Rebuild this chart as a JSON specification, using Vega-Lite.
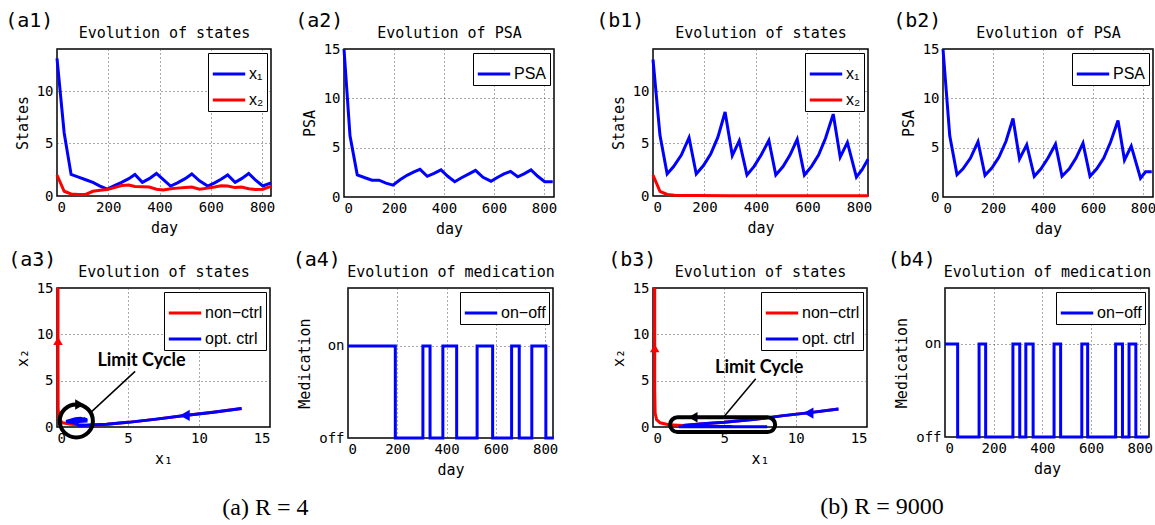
{
"$schema": "https://vega.github.io/schema/vega-lite/v6.json",
"padding": {"left": 4, "top": 10, "right": 0, "bottom": 0},
"background": "white",
"config": {
  "view": {"stroke": "black", "strokeWidth": 1.5},
  "axis": {"labelFont": "DejaVu Sans Mono", "labelFontSize": 14, "labelColor": "black", "titleFont": "DejaVu Sans Mono", "titleFontSize": 15, "titleFontWeight": "normal", "titleColor": "black", "domain": false, "ticks": false, "gridDash": [1, 3], "gridColor": "#444", "gridOpacity": 0.9, "labelPadding": 4, "titlePadding": 6},
  "legend": {"orient": "top-right", "offset": 4, "strokeColor": "black", "fillColor": "white", "padding": 3, "symbolType": "stroke", "symbolStrokeWidth": 3, "symbolSize": 1050, "labelFont": "Liberation Sans", "labelFontSize": 16, "labelColor": "black", "labelOffset": 2, "rowPadding": -10},
  "title": {"font": "DejaVu Sans Mono", "fontSize": 20, "fontWeight": "normal", "anchor": "start", "frame": "bounds", "color": "black", "dy": 10},
  "line": {"strokeWidth": 3}
},
"datasets": {
  "a1": [
    {"day": 0, "value": 13.1, "state": "x₁"}, {"day": 28, "value": 6.0, "state": "x₁"}, {"day": 55, "value": 2.05, "state": "x₁"}, {"day": 84, "value": 1.8, "state": "x₁"}, {"day": 112, "value": 1.55, "state": "x₁"}, {"day": 140, "value": 1.3, "state": "x₁"}, {"day": 168, "value": 0.95, "state": "x₁"}, {"day": 196, "value": 0.65, "state": "x₁"}, {"day": 224, "value": 1.0, "state": "x₁"}, {"day": 252, "value": 1.3, "state": "x₁"}, {"day": 280, "value": 1.65, "state": "x₁"}, {"day": 304, "value": 2.05, "state": "x₁"}, {"day": 333, "value": 1.3, "state": "x₁"}, {"day": 360, "value": 1.65, "state": "x₁"}, {"day": 388, "value": 2.15, "state": "x₁"}, {"day": 415, "value": 1.55, "state": "x₁"}, {"day": 443, "value": 0.95, "state": "x₁"}, {"day": 470, "value": 1.25, "state": "x₁"}, {"day": 500, "value": 1.65, "state": "x₁"}, {"day": 526, "value": 2.1, "state": "x₁"}, {"day": 556, "value": 1.45, "state": "x₁"}, {"day": 588, "value": 0.95, "state": "x₁"}, {"day": 615, "value": 1.25, "state": "x₁"}, {"day": 640, "value": 1.6, "state": "x₁"}, {"day": 666, "value": 2.0, "state": "x₁"}, {"day": 695, "value": 1.3, "state": "x₁"}, {"day": 720, "value": 1.65, "state": "x₁"}, {"day": 748, "value": 2.15, "state": "x₁"}, {"day": 775, "value": 1.5, "state": "x₁"}, {"day": 803, "value": 0.95, "state": "x₁"}, {"day": 835, "value": 1.25, "state": "x₁"},
    {"day": 0, "value": 2.0, "state": "x₂"}, {"day": 28, "value": 0.45, "state": "x₂"}, {"day": 55, "value": 0.2, "state": "x₂"}, {"day": 84, "value": 0.15, "state": "x₂"}, {"day": 112, "value": 0.15, "state": "x₂"}, {"day": 140, "value": 0.45, "state": "x₂"}, {"day": 168, "value": 0.55, "state": "x₂"}, {"day": 196, "value": 0.62, "state": "x₂"}, {"day": 224, "value": 0.8, "state": "x₂"}, {"day": 252, "value": 1.0, "state": "x₂"}, {"day": 280, "value": 1.05, "state": "x₂"}, {"day": 304, "value": 0.9, "state": "x₂"}, {"day": 333, "value": 0.88, "state": "x₂"}, {"day": 360, "value": 0.85, "state": "x₂"}, {"day": 388, "value": 0.65, "state": "x₂"}, {"day": 415, "value": 0.58, "state": "x₂"}, {"day": 443, "value": 0.7, "state": "x₂"}, {"day": 470, "value": 0.75, "state": "x₂"}, {"day": 500, "value": 0.82, "state": "x₂"}, {"day": 526, "value": 0.85, "state": "x₂"}, {"day": 556, "value": 0.65, "state": "x₂"}, {"day": 588, "value": 0.75, "state": "x₂"}, {"day": 615, "value": 0.85, "state": "x₂"}, {"day": 640, "value": 0.98, "state": "x₂"}, {"day": 666, "value": 0.95, "state": "x₂"}, {"day": 695, "value": 0.8, "state": "x₂"}, {"day": 720, "value": 0.85, "state": "x₂"}, {"day": 748, "value": 0.7, "state": "x₂"}, {"day": 775, "value": 0.62, "state": "x₂"}, {"day": 803, "value": 0.65, "state": "x₂"}, {"day": 835, "value": 0.92, "state": "x₂"}
  ],
  "a2": [
    {"day": 0, "psa": 15}, {"day": 24, "psa": 6.2}, {"day": 53, "psa": 2.25}, {"day": 84, "psa": 1.95}, {"day": 112, "psa": 1.7}, {"day": 140, "psa": 1.7}, {"day": 168, "psa": 1.4}, {"day": 196, "psa": 1.2}, {"day": 224, "psa": 1.75}, {"day": 252, "psa": 2.2}, {"day": 280, "psa": 2.55}, {"day": 304, "psa": 2.8}, {"day": 333, "psa": 2.1}, {"day": 360, "psa": 2.4}, {"day": 388, "psa": 2.75}, {"day": 415, "psa": 2.1}, {"day": 443, "psa": 1.55}, {"day": 470, "psa": 1.95}, {"day": 500, "psa": 2.35}, {"day": 526, "psa": 2.7}, {"day": 556, "psa": 2.0}, {"day": 588, "psa": 1.6}, {"day": 615, "psa": 2.0}, {"day": 640, "psa": 2.35}, {"day": 666, "psa": 2.6}, {"day": 695, "psa": 2.05}, {"day": 720, "psa": 2.35}, {"day": 748, "psa": 2.75}, {"day": 775, "psa": 2.1}, {"day": 803, "psa": 1.55}, {"day": 835, "psa": 1.55}
  ],
  "b1": [
    {"day": 0, "value": 13.0, "state": "x₁"}, {"day": 27, "value": 5.8, "state": "x₁"}, {"day": 55, "value": 2.1, "state": "x₁"}, {"day": 80, "value": 2.8, "state": "x₁"}, {"day": 110, "value": 3.9, "state": "x₁"}, {"day": 140, "value": 5.55, "state": "x₁"}, {"day": 168, "value": 2.1, "state": "x₁"}, {"day": 196, "value": 2.9, "state": "x₁"}, {"day": 224, "value": 4.0, "state": "x₁"}, {"day": 252, "value": 5.6, "state": "x₁"}, {"day": 280, "value": 8.0, "state": "x₁"}, {"day": 308, "value": 3.85, "state": "x₁"}, {"day": 335, "value": 5.25, "state": "x₁"}, {"day": 365, "value": 2.0, "state": "x₁"}, {"day": 392, "value": 2.8, "state": "x₁"}, {"day": 420, "value": 3.9, "state": "x₁"}, {"day": 450, "value": 5.3, "state": "x₁"}, {"day": 477, "value": 2.0, "state": "x₁"}, {"day": 505, "value": 2.8, "state": "x₁"}, {"day": 532, "value": 3.9, "state": "x₁"}, {"day": 560, "value": 5.4, "state": "x₁"}, {"day": 588, "value": 2.0, "state": "x₁"}, {"day": 615, "value": 2.8, "state": "x₁"}, {"day": 643, "value": 3.9, "state": "x₁"}, {"day": 670, "value": 5.5, "state": "x₁"}, {"day": 700, "value": 7.8, "state": "x₁"}, {"day": 727, "value": 3.7, "state": "x₁"}, {"day": 755, "value": 5.1, "state": "x₁"}, {"day": 790, "value": 1.8, "state": "x₁"}, {"day": 812, "value": 2.5, "state": "x₁"}, {"day": 835, "value": 3.5, "state": "x₁"},
    {"day": 0, "value": 2.0, "state": "x₂"}, {"day": 27, "value": 0.45, "state": "x₂"}, {"day": 55, "value": 0.15, "state": "x₂"}, {"day": 84, "value": 0.08, "state": "x₂"}, {"day": 112, "value": 0.05, "state": "x₂"}, {"day": 168, "value": 0.04, "state": "x₂"}, {"day": 300, "value": 0.03, "state": "x₂"}, {"day": 500, "value": 0.03, "state": "x₂"}, {"day": 835, "value": 0.02, "state": "x₂"}
  ],
  "b2": [
    {"day": 0, "psa": 15}, {"day": 27, "psa": 6.2}, {"day": 56, "psa": 2.25}, {"day": 80, "psa": 2.85}, {"day": 110, "psa": 3.95}, {"day": 140, "psa": 5.6}, {"day": 168, "psa": 2.2}, {"day": 196, "psa": 2.95}, {"day": 224, "psa": 4.05}, {"day": 252, "psa": 5.65}, {"day": 280, "psa": 7.95}, {"day": 306, "psa": 3.85}, {"day": 335, "psa": 5.3}, {"day": 365, "psa": 2.1}, {"day": 392, "psa": 2.85}, {"day": 420, "psa": 3.95}, {"day": 450, "psa": 5.35}, {"day": 476, "psa": 2.1}, {"day": 505, "psa": 2.85}, {"day": 532, "psa": 3.95}, {"day": 560, "psa": 5.45}, {"day": 588, "psa": 2.1}, {"day": 615, "psa": 2.85}, {"day": 643, "psa": 3.95}, {"day": 670, "psa": 5.55}, {"day": 700, "psa": 7.75}, {"day": 726, "psa": 3.75}, {"day": 753, "psa": 5.15}, {"day": 790, "psa": 1.9}, {"day": 810, "psa": 2.55}, {"day": 835, "psa": 2.55}
  ],
  "a4": [
    {"day": 0, "on": 1}, {"day": 192, "on": 0}, {"day": 304, "on": 1}, {"day": 333, "on": 0}, {"day": 385, "on": 1}, {"day": 441, "on": 0}, {"day": 524, "on": 1}, {"day": 587, "on": 0}, {"day": 664, "on": 1}, {"day": 695, "on": 0}, {"day": 746, "on": 1}, {"day": 803, "on": 0}, {"day": 835, "on": 0}
  ],
  "b4": [
    {"day": 0, "on": 1}, {"day": 52, "on": 0}, {"day": 140, "on": 1}, {"day": 167, "on": 0}, {"day": 279, "on": 1}, {"day": 307, "on": 0}, {"day": 332, "on": 1}, {"day": 362, "on": 0}, {"day": 448, "on": 1}, {"day": 475, "on": 0}, {"day": 562, "on": 1}, {"day": 586, "on": 0}, {"day": 701, "on": 1}, {"day": 729, "on": 0}, {"day": 756, "on": 1}, {"day": 784, "on": 0}, {"day": 835, "on": 0}
  ],
  "a3red": [
    {"i": 0, "x1": 13, "x2": 2.0}, {"i": 1, "x1": 11, "x2": 1.6}, {"i": 2, "x1": 9, "x2": 1.25}, {"i": 3, "x1": 7, "x2": 0.85}, {"i": 4, "x1": 5, "x2": 0.5}, {"i": 5, "x1": 3.5, "x2": 0.3}, {"i": 6, "x1": 2.05, "x2": 0.2}, {"i": 7, "x1": 1.0, "x2": 0.3}, {"i": 8, "x1": 0.4, "x2": 0.45}, {"i": 9, "x1": 0.15, "x2": 0.8}, {"i": 10, "x1": 0.08, "x2": 2}, {"i": 11, "x1": 0.07, "x2": 8}, {"i": 12, "x1": 0.07, "x2": 15}
  ],
  "a3blue": [
    {"i": 0, "x1": 13, "x2": 2.0}, {"i": 1, "x1": 11, "x2": 1.6}, {"i": 2, "x1": 9, "x2": 1.25}, {"i": 3, "x1": 7, "x2": 0.85}, {"i": 4, "x1": 5, "x2": 0.5}, {"i": 5, "x1": 3.5, "x2": 0.3}, {"i": 6, "x1": 2.05, "x2": 0.2}, {"i": 7, "x1": 1.55, "x2": 0.15}, {"i": 8, "x1": 1.3, "x2": 0.4}, {"i": 9, "x1": 0.95, "x2": 0.5}, {"i": 10, "x1": 0.65, "x2": 0.6}, {"i": 11, "x1": 1.0, "x2": 0.75}, {"i": 12, "x1": 1.3, "x2": 0.9}, {"i": 13, "x1": 1.65, "x2": 0.95}, {"i": 14, "x1": 2.05, "x2": 0.8}, {"i": 15, "x1": 1.3, "x2": 0.8}, {"i": 16, "x1": 1.65, "x2": 0.75}, {"i": 17, "x1": 2.15, "x2": 0.65}, {"i": 18, "x1": 1.55, "x2": 0.6}, {"i": 19, "x1": 0.95, "x2": 0.6}, {"i": 20, "x1": 1.25, "x2": 0.7}, {"i": 21, "x1": 1.65, "x2": 0.75}, {"i": 22, "x1": 2.1, "x2": 0.8}, {"i": 23, "x1": 1.45, "x2": 0.7}, {"i": 24, "x1": 0.95, "x2": 0.65}, {"i": 25, "x1": 1.25, "x2": 0.8}, {"i": 26, "x1": 1.6, "x2": 0.85}, {"i": 27, "x1": 2.0, "x2": 0.9}, {"i": 28, "x1": 1.3, "x2": 0.75}, {"i": 29, "x1": 1.65, "x2": 0.8}, {"i": 30, "x1": 2.15, "x2": 0.75}, {"i": 31, "x1": 1.5, "x2": 0.65}, {"i": 32, "x1": 0.95, "x2": 0.6}, {"i": 33, "x1": 1.25, "x2": 0.8}
  ],
  "b3red": [
    {"i": 0, "x1": 13, "x2": 1.95}, {"i": 1, "x1": 11, "x2": 1.55}, {"i": 2, "x1": 9, "x2": 1.2}, {"i": 3, "x1": 7, "x2": 0.8}, {"i": 4, "x1": 5, "x2": 0.5}, {"i": 5, "x1": 3.5, "x2": 0.35}, {"i": 6, "x1": 2.1, "x2": 0.15}, {"i": 7, "x1": 1.1, "x2": 0.25}, {"i": 8, "x1": 0.5, "x2": 0.45}, {"i": 9, "x1": 0.25, "x2": 0.8}, {"i": 10, "x1": 0.15, "x2": 1.5}, {"i": 11, "x1": 0.12, "x2": 4}, {"i": 12, "x1": 0.12, "x2": 15}
  ],
  "b3blue": [
    {"i": 0, "x1": 13, "x2": 1.95}, {"i": 1, "x1": 11, "x2": 1.55}, {"i": 2, "x1": 9, "x2": 1.2}, {"i": 3, "x1": 7, "x2": 0.8}, {"i": 4, "x1": 5, "x2": 0.5}, {"i": 5, "x1": 3.5, "x2": 0.35}, {"i": 6, "x1": 2.1, "x2": 0.15}, {"i": 7, "x1": 5.55, "x2": 0.05}, {"i": 8, "x1": 2.1, "x2": 0.04}, {"i": 9, "x1": 8.0, "x2": 0.03}, {"i": 10, "x1": 3.85, "x2": 0.03}, {"i": 11, "x1": 5.25, "x2": 0.03}, {"i": 12, "x1": 2.0, "x2": 0.03}, {"i": 13, "x1": 5.3, "x2": 0.02}, {"i": 14, "x1": 2.0, "x2": 0.02}, {"i": 15, "x1": 5.4, "x2": 0.02}, {"i": 16, "x1": 2.0, "x2": 0.02}, {"i": 17, "x1": 7.8, "x2": 0.02}, {"i": 18, "x1": 3.7, "x2": 0.02}, {"i": 19, "x1": 5.1, "x2": 0.02}, {"i": 20, "x1": 1.8, "x2": 0.02}, {"i": 21, "x1": 3.5, "x2": 0.02}
  ]
},
"resolve": {"scale": {"color": "independent"}, "legend": {"color": "independent"}},
"spacing": 34,
"hconcat": [
  {
    "title": {"text": "(a) R = 4", "orient": "bottom", "anchor": "middle", "font": "Liberation Serif", "fontSize": 24, "dx": -17, "dy": 0, "offset": 18},
    "resolve": {"scale": {"color": "independent"}, "legend": {"color": "independent"}},
    "spacing": 12,
    "vconcat": [
      {
        "resolve": {"scale": {"color": "independent"}, "legend": {"color": "independent"}},
        "spacing": 16,
        "hconcat": [
          {
            "width": 214, "height": 147,
            "title": {"text": "(a1)", "dx": -10},
            "resolve": {"axis": {"x": "independent"}},
            "layer": [
              {"data": {"name": "a1"}, "mark": {"type": "line", "strokeWidth": 3},
               "encoding": {
                 "x": {"field": "day", "type": "quantitative", "scale": {"domain": [0, 835], "nice": false}, "axis": {"values": [0, 200, 400, 600, 800], "title": "day"}},
                 "y": {"field": "value", "type": "quantitative", "scale": {"domain": [0, 14], "nice": false}, "axis": {"values": [0, 5, 10]}, "title": "States"},
                 "color": {"field": "state", "type": "nominal", "scale": {"domain": ["x₁", "x₂"], "range": ["blue", "red"]}, "legend": {"title": null}}
               }},
              {"data": {"values": [{}]}, "mark": {"type": "rule", "opacity": 0},
               "encoding": {"x": {"datum": 0, "type": "quantitative", "axis": {"orient": "top", "title": "Evolution of states", "labels": false, "grid": false, "titlePadding": 9}}}}
            ]
          },
          {
            "width": 210, "height": 148,
            "title": {"text": "(a2)", "dx": -7},
            "resolve": {"axis": {"x": "independent"}},
            "layer": [
              {"data": {"name": "a2"}, "mark": {"type": "line", "strokeWidth": 3},
               "encoding": {
                 "x": {"field": "day", "type": "quantitative", "scale": {"domain": [0, 840], "nice": false}, "axis": {"values": [0, 200, 400, 600, 800], "title": "day"}},
                 "y": {"field": "psa", "type": "quantitative", "scale": {"domain": [0, 15], "nice": false}, "axis": {"values": [0, 5, 10, 15]}, "title": "PSA"},
                 "color": {"datum": "PSA", "type": "nominal", "scale": {"domain": ["PSA"], "range": ["blue"]}, "legend": {"title": null}}
               }},
              {"data": {"values": [{}]}, "mark": {"type": "rule", "opacity": 0},
               "encoding": {"x": {"datum": 0, "type": "quantitative", "axis": {"orient": "top", "title": "Evolution of PSA", "labels": false, "grid": false, "titlePadding": 9}}}}
            ]
          }
        ]
      },
      {
        "resolve": {"scale": {"color": "independent"}, "legend": {"color": "independent"}},
        "spacing": 20,
        "hconcat": [
          {
            "width": 213, "height": 139,
            "title": {"text": "(a3)", "dx": -7},
            "resolve": {"axis": {"x": "independent"}},
            "layer": [
              {"data": {"name": "a3red"}, "mark": {"type": "line", "strokeWidth": 3},
               "encoding": {
                 "x": {"field": "x1", "type": "quantitative", "scale": {"domain": [0, 15], "nice": false}, "axis": {"values": [0, 5, 10, 15], "title": "x₁"}},
                 "y": {"field": "x2", "type": "quantitative", "scale": {"domain": [0, 15], "nice": false}, "axis": {"values": [0, 5, 10, 15]}, "title": "x₂"},
                 "order": {"field": "i"},
                 "color": {"datum": "non−ctrl", "type": "nominal", "scale": {"domain": ["non−ctrl", "opt. ctrl"], "range": ["red", "blue"]}, "legend": {"title": null}}
               }},
              {"data": {"name": "a3blue"}, "mark": {"type": "line", "strokeWidth": 3},
               "encoding": {
                 "x": {"field": "x1", "type": "quantitative", "axis": null},
                 "y": {"field": "x2", "type": "quantitative", "title": "x₂"},
                 "order": {"field": "i"},
                 "color": {"datum": "opt. ctrl", "type": "nominal"}
               }},
              {"data": {"values": [{"x1": 0.07, "x2": 9.3}]}, "mark": {"type": "point", "shape": "triangle-up", "filled": true, "color": "red", "opacity": 1, "size": 90},
               "encoding": {"x": {"field": "x1", "type": "quantitative", "axis": null}, "y": {"field": "x2", "type": "quantitative", "title": "x₂"}}},
              {"data": {"values": [{"x1": 9.0, "x2": 1.25}]}, "mark": {"type": "point", "shape": "triangle-left", "filled": true, "color": "blue", "opacity": 1, "size": 130},
               "encoding": {"x": {"field": "x1", "type": "quantitative", "axis": null}, "y": {"field": "x2", "type": "quantitative", "title": "x₂"}}},
              {"data": {"values": [{"x1": 1.36, "x2": 0.65}]}, "mark": {"type": "point", "shape": "circle", "filled": false, "color": "black", "strokeWidth": 4, "opacity": 1, "size": 1100},
               "encoding": {"x": {"field": "x1", "type": "quantitative", "axis": null}, "y": {"field": "x2", "type": "quantitative", "title": "x₂"}}},
              {"data": {"values": [{"x1": 1.6, "x2": 2.43}]}, "mark": {"type": "point", "shape": "triangle-right", "filled": true, "color": "black", "opacity": 1, "size": 110},
               "encoding": {"x": {"field": "x1", "type": "quantitative", "axis": null}, "y": {"field": "x2", "type": "quantitative", "title": "x₂"}}},
              {"data": {"values": [{"x1": 5.5, "x2": 6.0, "x1end": 2.4, "x2end": 1.6}]}, "mark": {"type": "rule", "color": "black", "strokeWidth": 1.5},
               "encoding": {"x": {"field": "x1", "type": "quantitative", "axis": null}, "y": {"field": "x2", "type": "quantitative", "title": "x₂"}, "x2": {"field": "x1end"}, "y2": {"field": "x2end"}}},
              {"data": {"values": [{"x1": 5.95, "x2": 7.1, "label": "Limit Cycle"}]}, "mark": {"type": "text", "font": "Lato", "fontWeight": "bold", "fontSize": 18, "color": "black"},
               "encoding": {"x": {"field": "x1", "type": "quantitative", "axis": null}, "y": {"field": "x2", "type": "quantitative", "title": "x₂"}, "text": {"field": "label"}}},
              {"data": {"values": [{}]}, "mark": {"type": "rule", "opacity": 0},
               "encoding": {"x": {"datum": 0, "type": "quantitative", "axis": {"orient": "top", "title": "Evolution of states", "labels": false, "grid": false, "titlePadding": 9}}}}
            ]
          },
          {
            "width": 205, "height": 150,
            "title": {"text": "(a4)", "dx": -5},
            "resolve": {"axis": {"x": "independent"}},
            "layer": [
              {"data": {"name": "a4"}, "mark": {"type": "line", "strokeWidth": 3, "interpolate": "step-after"},
               "encoding": {
                 "x": {"field": "day", "type": "quantitative", "scale": {"domain": [0, 832], "nice": false}, "axis": {"values": [0, 200, 400, 600, 800], "title": "day"}},
                 "y": {"field": "on", "type": "quantitative", "scale": {"domain": [0, 1.63], "nice": false}, "axis": {"values": [0, 1], "labelExpr": "datum.value == 1 ? 'on' : 'off'"}, "title": "Medication"},
                 "color": {"datum": "on−off", "type": "nominal", "scale": {"domain": ["on−off"], "range": ["blue"]}, "legend": {"title": null}}
               }},
              {"data": {"values": [{}]}, "mark": {"type": "rule", "opacity": 0},
               "encoding": {"x": {"datum": 0, "type": "quantitative", "axis": {"orient": "top", "title": "Evolution of medication", "labels": false, "grid": false, "titlePadding": 9}}}}
            ]
          }
        ]
      }
    ]
  },
  {
    "title": {"text": "(b) R = 9000", "orient": "bottom", "anchor": "middle", "font": "Liberation Serif", "fontSize": 24, "dx": 5, "dy": 0, "offset": 18},
    "resolve": {"scale": {"color": "independent"}, "legend": {"color": "independent"}},
    "spacing": 12,
    "vconcat": [
      {
        "resolve": {"scale": {"color": "independent"}, "legend": {"color": "independent"}},
        "spacing": 17,
        "hconcat": [
          {
            "width": 215, "height": 147,
            "title": {"text": "(b1)", "dx": -15},
            "resolve": {"axis": {"x": "independent"}},
            "layer": [
              {"data": {"name": "b1"}, "mark": {"type": "line", "strokeWidth": 3},
               "encoding": {
                 "x": {"field": "day", "type": "quantitative", "scale": {"domain": [0, 835], "nice": false}, "axis": {"values": [0, 200, 400, 600, 800], "title": "day"}},
                 "y": {"field": "value", "type": "quantitative", "scale": {"domain": [0, 14], "nice": false}, "axis": {"values": [0, 5, 10]}, "title": "States"},
                 "color": {"field": "state", "type": "nominal", "scale": {"domain": ["x₁", "x₂"], "range": ["blue", "red"]}, "legend": {"title": null}}
               }},
              {"data": {"values": [{}]}, "mark": {"type": "rule", "opacity": 0},
               "encoding": {"x": {"datum": 0, "type": "quantitative", "axis": {"orient": "top", "title": "Evolution of states", "labels": false, "grid": false, "titlePadding": 9}}}}
            ]
          },
          {
            "width": 210, "height": 148,
            "title": {"text": "(b2)", "dx": -8},
            "resolve": {"axis": {"x": "independent"}},
            "layer": [
              {"data": {"name": "b2"}, "mark": {"type": "line", "strokeWidth": 3},
               "encoding": {
                 "x": {"field": "day", "type": "quantitative", "scale": {"domain": [0, 840], "nice": false}, "axis": {"values": [0, 200, 400, 600, 800], "title": "day"}},
                 "y": {"field": "psa", "type": "quantitative", "scale": {"domain": [0, 15], "nice": false}, "axis": {"values": [0, 5, 10, 15]}, "title": "PSA"},
                 "color": {"datum": "PSA", "type": "nominal", "scale": {"domain": ["PSA"], "range": ["blue"]}, "legend": {"title": null}}
               }},
              {"data": {"values": [{}]}, "mark": {"type": "rule", "opacity": 0},
               "encoding": {"x": {"datum": 0, "type": "quantitative", "axis": {"orient": "top", "title": "Evolution of PSA", "labels": false, "grid": false, "titlePadding": 9}}}}
            ]
          }
        ]
      },
      {
        "resolve": {"scale": {"color": "independent"}, "legend": {"color": "independent"}},
        "spacing": 18,
        "hconcat": [
          {
            "width": 214, "height": 139,
            "title": {"text": "(b3)", "dx": -3},
            "resolve": {"axis": {"x": "independent"}},
            "layer": [
              {"data": {"name": "b3red"}, "mark": {"type": "line", "strokeWidth": 3},
               "encoding": {
                 "x": {"field": "x1", "type": "quantitative", "scale": {"domain": [0, 15], "nice": false}, "axis": {"values": [0, 5, 10, 15], "title": "x₁"}},
                 "y": {"field": "x2", "type": "quantitative", "scale": {"domain": [0, 15], "nice": false}, "axis": {"values": [0, 5, 10, 15]}, "title": "x₂"},
                 "order": {"field": "i"},
                 "color": {"datum": "non−ctrl", "type": "nominal", "scale": {"domain": ["non−ctrl", "opt. ctrl"], "range": ["red", "blue"]}, "legend": {"title": null}}
               }},
              {"data": {"name": "b3blue"}, "mark": {"type": "line", "strokeWidth": 3},
               "encoding": {
                 "x": {"field": "x1", "type": "quantitative", "axis": null},
                 "y": {"field": "x2", "type": "quantitative", "title": "x₂"},
                 "order": {"field": "i"},
                 "color": {"datum": "opt. ctrl", "type": "nominal"}
               }},
              {"data": {"values": [{"x1": 0.12, "x2": 8.5}]}, "mark": {"type": "point", "shape": "triangle-up", "filled": true, "color": "red", "opacity": 1, "size": 90},
               "encoding": {"x": {"field": "x1", "type": "quantitative", "axis": null}, "y": {"field": "x2", "type": "quantitative", "title": "x₂"}}},
              {"data": {"values": [{"x1": 10.9, "x2": 1.5}]}, "mark": {"type": "point", "shape": "triangle-left", "filled": true, "color": "blue", "opacity": 1, "size": 130},
               "encoding": {"x": {"field": "x1", "type": "quantitative", "axis": null}, "y": {"field": "x2", "type": "quantitative", "title": "x₂"}}},
              {"data": {"values": [{"x1": 1.2, "x2": -0.54, "x1end": 8.56, "x2end": 1.04}]}, "mark": {"type": "rect", "filled": false, "stroke": "black", "strokeWidth": 4, "cornerRadius": 8, "opacity": 1},
               "encoding": {"x": {"field": "x1", "type": "quantitative", "axis": null}, "y": {"field": "x2", "type": "quantitative", "title": "x₂"}, "x2": {"field": "x1end"}, "y2": {"field": "x2end"}}},
              {"data": {"values": [{"x1": 2.8, "x2": 1.04}]}, "mark": {"type": "point", "shape": "triangle-left", "filled": true, "color": "black", "opacity": 1, "size": 110},
               "encoding": {"x": {"field": "x1", "type": "quantitative", "axis": null}, "y": {"field": "x2", "type": "quantitative", "title": "x₂"}}},
              {"data": {"values": [{"x1": 7.2, "x2": 5.2, "x1end": 5.0, "x2end": 1.15}]}, "mark": {"type": "rule", "color": "black", "strokeWidth": 1.5},
               "encoding": {"x": {"field": "x1", "type": "quantitative", "axis": null}, "y": {"field": "x2", "type": "quantitative", "title": "x₂"}, "x2": {"field": "x1end"}, "y2": {"field": "x2end"}}},
              {"data": {"values": [{"x1": 7.44, "x2": 6.4, "label": "Limit Cycle"}]}, "mark": {"type": "text", "font": "Lato", "fontWeight": "bold", "fontSize": 18, "color": "black"},
               "encoding": {"x": {"field": "x1", "type": "quantitative", "axis": null}, "y": {"field": "x2", "type": "quantitative", "title": "x₂"}, "text": {"field": "label"}}},
              {"data": {"values": [{}]}, "mark": {"type": "rule", "opacity": 0},
               "encoding": {"x": {"datum": 0, "type": "quantitative", "axis": {"orient": "top", "title": "Evolution of states", "labels": false, "grid": false, "titlePadding": 9}}}}
            ]
          },
          {
            "width": 204, "height": 149,
            "title": {"text": "(b4)", "dx": -7},
            "resolve": {"axis": {"x": "independent"}},
            "layer": [
              {"data": {"name": "b4"}, "mark": {"type": "line", "strokeWidth": 3, "interpolate": "step-after"},
               "encoding": {
                 "x": {"field": "day", "type": "quantitative", "scale": {"domain": [0, 838], "nice": false}, "axis": {"values": [0, 200, 400, 600, 800], "title": "day"}},
                 "y": {"field": "on", "type": "quantitative", "scale": {"domain": [0, 1.6], "nice": false}, "axis": {"values": [0, 1], "labelExpr": "datum.value == 1 ? 'on' : 'off'"}, "title": "Medication"},
                 "color": {"datum": "on−off", "type": "nominal", "scale": {"domain": ["on−off"], "range": ["blue"]}, "legend": {"title": null}}
               }},
              {"data": {"values": [{}]}, "mark": {"type": "rule", "opacity": 0},
               "encoding": {"x": {"datum": 0, "type": "quantitative", "axis": {"orient": "top", "title": "Evolution of medication", "labels": false, "grid": false, "titlePadding": 9}}}}
            ]
          }
        ]
      }
    ]
  }
]
}
